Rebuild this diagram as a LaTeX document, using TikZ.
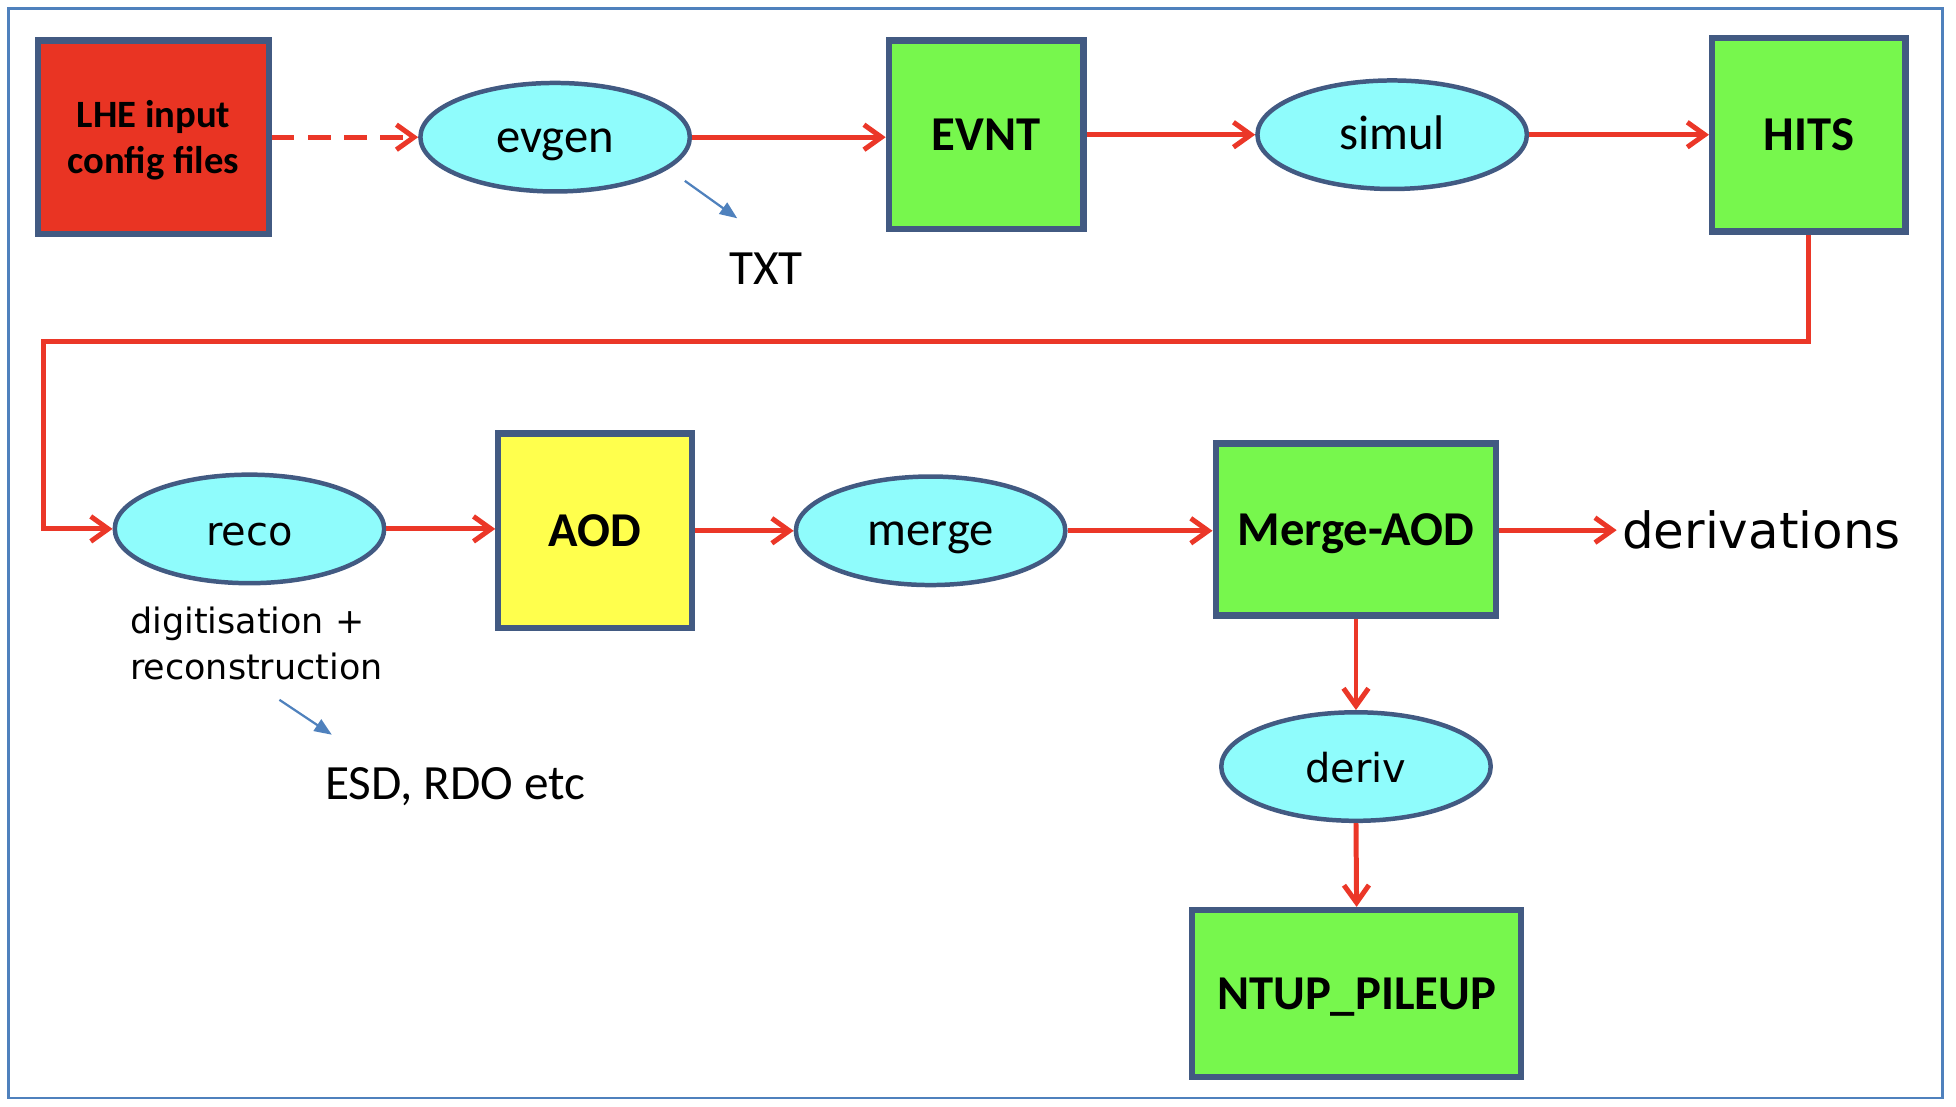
\documentclass[tikz,border=0pt]{standalone}
\usepackage{fontspec}
\setmainfont{Carlito}
\newfontfamily\comicf{DejaVu Sans}
\usetikzlibrary{arrows.meta,shapes.geometric}
\definecolor{bordc}{RGB}{66,90,130}
\definecolor{redfill}{RGB}{233,52,35}
\definecolor{arrowred}{RGB}{235,55,40}
\definecolor{greenfill}{RGB}{119,247,77}
\definecolor{yellowfill}{RGB}{255,255,77}
\definecolor{cyanfill}{RGB}{143,252,252}
\definecolor{noteblue}{RGB}{79,129,189}
\begin{document}
\begin{tikzpicture}[x=0.5pt,y=-0.5pt,
  box/.style={draw=bordc, line width=2.5pt, inner sep=0pt,
    font=\fontsize{19.5}{23}\selectfont\bfseries, text=black,
    text height=12.5pt, text depth=0pt},
  proc/.style={ellipse, draw=bordc, line width=1.8pt, fill=cyanfill,
    minimum width=108pt, minimum height=43.5pt, inner sep=0pt,
    font=\fontsize{19.5}{23}\selectfont, text height=12pt, text depth=0pt},
  comicproc/.style={proc, font=\comicf\fontsize{16}{19}\selectfont, text height=13pt},
  flow/.style={draw=arrowred, line width=2pt, -{Straight Barb[length=7pt,width=10pt]}},
  dashflow/.style={flow, dash pattern=on 9pt off 5.5pt},
  note/.style={draw=noteblue, line width=0.9pt, -{Triangle[length=7pt,width=5.5pt]}},
  plain/.style={font=\fontsize{19.75}{23}\selectfont, inner sep=0pt}]
\useasboundingbox (0,0) rectangle (1568,887);
\draw[noteblue, line width=1pt] (7,7) rectangle (1557,880);

% top row
\node[box, fill=redfill, minimum width=92.5pt, minimum height=77.5pt,
      align=center, text height=, text depth=0pt, font=\fontsize{15.5}{18.5}\selectfont\bfseries] (lhe) at (123,110) {LHE input\\config files};
\node[proc] (evgen) at (445,110) {evgen};
\node[box, fill=greenfill, minimum width=78pt, minimum height=75.5pt] (evnt) at (790.5,108) {EVNT};
\node[proc] (simul) at (1116,108) {simul};
\node[box, fill=greenfill, minimum width=77.5pt, minimum height=77.5pt] (hits) at (1450,108) {HITS};
\node[plain] (txt) at (614,215) {TXT};

% second row
\node[comicproc] (reco) at (200,424) {reco};
\node[box, fill=yellowfill, minimum width=77.5pt, minimum height=78pt] (aod) at (477,425.5) {AOD};
\node[proc] (merge) at (746,425.5) {merge};
\node[box, fill=greenfill, minimum width=112.5pt, minimum height=69pt] (mergeaod) at (1087,424.5) {Merge-AOD};
\node[anchor=west, inner sep=2pt, font=\comicf\fontsize{20}{24}\selectfont] (derivations) at (1296,425) {derivations};
\node[anchor=west, inner sep=2pt, align=left, font=\comicf\fontsize{14}{18.5}\selectfont] (digi) at (100,515.5) {digitisation +\\reconstruction};
\node[plain] (esd) at (365,631) {ESD, RDO etc};

% third column
\node[comicproc] (deriv) at (1087,614.5) {deriv};
\node[box, fill=greenfill, minimum width=132pt, minimum height=67pt] (ntup) at (1087.5,796.5) {NTUP\_PILEUP};

% connectors
\draw[dashflow] (lhe.east |- evgen.west) -- (evgen.west);
\draw[flow] (evgen.east) -- (evnt.west |- evgen.east);
\draw[flow] (evnt.east |- simul.west) -- (simul.west);
\draw[flow] (simul.east) -- (hits.west |- simul.east);
\coordinate (bendL) at (35,274);
\draw[flow] (hits.south) |- (bendL) |- (reco.west);
\draw[flow] (reco.east) -- (aod.west |- reco.east);
\draw[flow] (aod.east |- merge.west) -- (merge.west);
\draw[flow] (merge.east) -- (mergeaod.west |- merge.east);
\draw[flow] (mergeaod.east |- derivations.west) -- (derivations.west);
\draw[flow] (mergeaod.south) -- (deriv.north);
\draw[flow] (deriv.south) -- (ntup.north);

% small notes
\coordinate (n1s) at (549,145);
\coordinate (n1e) at (591,175);
\draw[note] (n1s) -- (n1e);
\coordinate (n2s) at (224,561);
\coordinate (n2e) at (266,589);
\draw[note] (n2s) -- (n2e);
\end{tikzpicture}
\end{document}
